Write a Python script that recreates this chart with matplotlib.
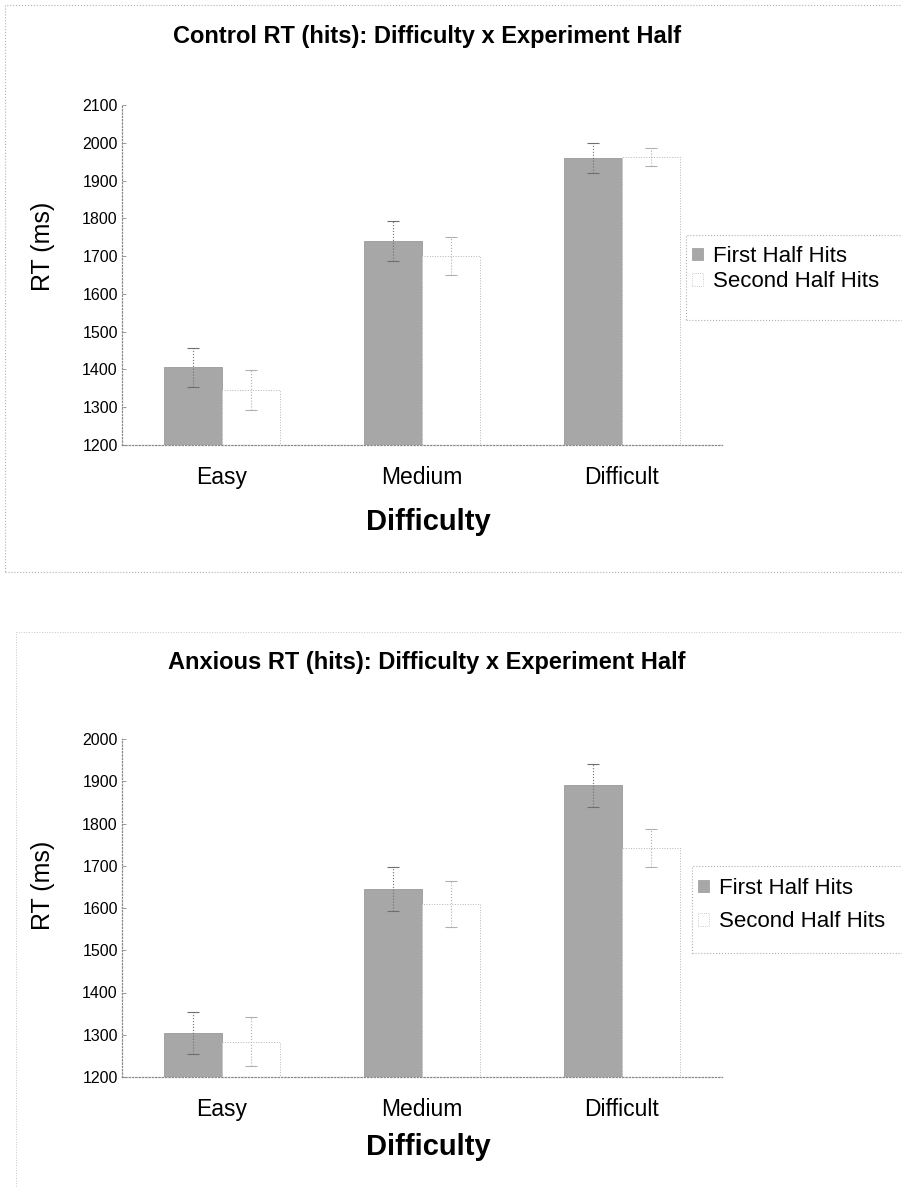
import matplotlib
matplotlib.use("Agg")
import matplotlib.pyplot as plt
from matplotlib.patches import Rectangle, Patch
import numpy as np

plt.rcParams['font.family'] = ['Liberation Sans', 'DejaVu Sans']

categories = ["Easy", "Medium", "Difficult"]
series_names = ["First Half Hits", "Second Half Hits"]

control_first = [1406, 1740, 1960]
control_first_err = [52, 52, 40]
control_second = [1346, 1700, 1962]
control_second_err = [53, 50, 24]

anxious_first = [1304, 1645, 1890]
anxious_first_err = [50, 53, 50]
anxious_second = [1283, 1610, 1742]
anxious_second_err = [58, 55, 45]

control_ticks = [1200, 1300, 1400, 1500, 1600, 1700, 1800, 1900, 2000, 2100]
anxious_ticks = [1200, 1300, 1400, 1500, 1600, 1700, 1800, 1900, 2000]

W, H = 902, 1188
fig = plt.figure(figsize=(W / 100, H / 100), dpi=100)

FIRST_COLOR = '#a7a7a7'
AX_COLOR = '#8a8a8a'


def fx(px):
    return px / W


def fy(py):
    return 1 - py / H


def draw(rect, title, first, first_err, second, second_err, ticks,
         title_y, xlab_y, ylab_y, leg_box, leg_anchor, leg_spacing):
    ax = fig.add_axes(rect)
    x = np.arange(len(categories))
    bw = 0.29
    ax.bar(x - bw / 2, first, bw, color=FIRST_COLOR,
           edgecolor='#9a9a9a', linewidth=0.6, label=series_names[0], zorder=2)
    ax.bar(x + bw / 2, second, bw, color='white', edgecolor='#b5b5b5',
           linewidth=0.7, linestyle=':', label=series_names[1], zorder=2)
    e1 = ax.errorbar(x - bw / 2, first, yerr=first_err, fmt='none',
                     ecolor='#6e6e6e', elinewidth=0.8, capsize=4,
                     capthick=0.8, zorder=3)
    e2 = ax.errorbar(x + bw / 2, second, yerr=second_err, fmt='none',
                     ecolor='#b0b0b0', elinewidth=0.8, capsize=4,
                     capthick=0.8, zorder=3)
    for e in (e1, e2):
        for c in e[2]:
            c.set_linestyle(':')
    ax.set_xlim(-0.5, 2.5)
    ax.set_ylim(ticks[0], ticks[-1])
    ax.set_yticks(ticks)
    ax.set_yticklabels([str(t) for t in ticks], fontsize=11.5)
    ax.set_xticks(x)
    ax.set_xticklabels(categories, fontsize=16.5)
    ax.tick_params(axis='x', length=0, pad=15)
    ax.tick_params(axis='y', direction='in', length=3, color=AX_COLOR,
                   width=0.6, pad=3)
    for s in ('top', 'right'):
        ax.spines[s].set_visible(False)
    for s in ('left', 'bottom'):
        ax.spines[s].set_color(AX_COLOR)
        ax.spines[s].set_linestyle(':')
        ax.spines[s].set_linewidth(0.9)
    fig.text(fx(43), fy(ylab_y), "RT (ms)", ha='center', va='center',
             rotation=90, fontsize=18)
    fig.text(fx(427), fy(title_y), title, ha='center', va='center',
             fontsize=17, fontweight='bold')
    fig.text(fx(428), fy(xlab_y), "Difficulty", ha='center', va='center',
             fontsize=21, fontweight='bold')
    handles = [Patch(facecolor=FIRST_COLOR, edgecolor='#999999', lw=0.5),
               Patch(facecolor='white', edgecolor='#bbbbbb', lw=0.6,
                     linestyle=':')]
    fig.legend(handles, series_names, loc='upper left',
               bbox_to_anchor=leg_anchor, fontsize=16, frameon=False,
               handlelength=0.5, handleheight=0.5,
               handletextpad=0.45, labelspacing=leg_spacing, borderpad=0,
               borderaxespad=0)
    x0, y0, x1, y1 = leg_box
    fig.add_artist(Rectangle((fx(x0), fy(y1)), fx(x1 - x0), (y1 - y0) / H,
                             transform=fig.transFigure, fill=False,
                             edgecolor='#b0b0b0', linestyle=':',
                             linewidth=0.8))
    return ax


draw([fx(122), fy(445), fx(600), 340 / H],
     "Control RT (hits): Difficulty x Experiment Half",
     control_first, control_first_err, control_second, control_second_err,
     control_ticks, 37, 522, 246, (686, 235, 915, 320), (fx(692), fy(246)),
     0.2)

draw([fx(122), fy(1077), fx(600), 338 / H],
     "Anxious RT (hits): Difficulty x Experiment Half",
     anxious_first, anxious_first_err, anxious_second, anxious_second_err,
     anxious_ticks, 662, 1147, 885, (692, 866, 915, 953), (fx(698), fy(878)),
     0.55)

# panel frames
fig.add_artist(Rectangle((fx(5), fy(572)), fx(910), 567 / H,
                         transform=fig.transFigure, fill=False,
                         edgecolor='#b0b0b0', linestyle=':', linewidth=0.8))
fig.add_artist(Rectangle((fx(16), fy(1200)), fx(900), (1200 - 632) / H,
                         transform=fig.transFigure, fill=False,
                         edgecolor='#c8c8c8', linestyle=':', linewidth=0.7))

fig.savefig("out.png", dpi=100)
